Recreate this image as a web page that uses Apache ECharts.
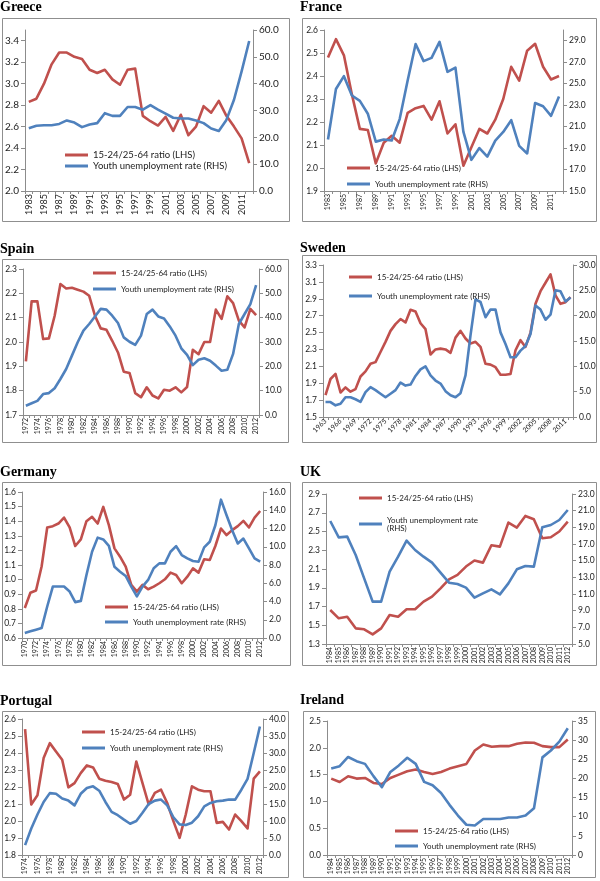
<!DOCTYPE html>
<html><head><meta charset="utf-8">
<script src="https://cdn.jsdelivr.net/npm/echarts@6/dist/echarts.min.js"></script>
<style>html,body{margin:0;padding:0;background:#fff}#c{width:600px;height:881px}</style>
</head><body><div id="c"></div>
<script>
// ---------- DATA ----------
const RATIO = '15-24/25-64 ratio (LHS)';
const YOUTH = 'Youth unemployment rate (RHS)';

const greeceYears = ['1983','1984','1985','1986','1987','1988','1989','1990','1991','1992','1993','1994','1995','1996','1997','1998','1999','2000','2001','2002','2003','2004','2005','2006','2007','2008','2009','2010','2011','2012'];
const greeceRatio = [2.83,2.86,3.00,3.18,3.29,3.29,3.25,3.23,3.13,3.10,3.13,3.04,2.99,3.13,3.14,2.70,2.65,2.61,2.69,2.56,2.71,2.52,2.60,2.79,2.73,2.84,2.70,2.60,2.49,2.26];
const greeceYouth = [23.4,24.3,24.5,24.5,25.0,26.3,25.5,23.8,24.8,25.3,29.0,28.0,28.0,31.3,31.3,30.3,32.0,30.3,28.8,27.3,27.0,27.0,26.3,25.3,23.3,22.4,26.5,34.0,44.6,55.9];
const greeceLeftTicks = [2.0, 3.5, 0.2];
const greeceRightTicks = [0, 60, 10];

const franceYears = ['1983','1984','1985','1986','1987','1988','1989','1990','1991','1992','1993','1994','1995','1996','1997','1998','1999','2000','2001','2002','2003','2004','2005','2006','2007','2008','2009','2010','2011','2012'];
const franceRatio = [2.48,2.56,2.49,2.32,2.17,2.165,2.02,2.11,2.14,2.11,2.24,2.26,2.27,2.21,2.29,2.15,2.19,2.01,2.09,2.17,2.15,2.21,2.30,2.44,2.38,2.51,2.54,2.44,2.385,2.40];
const franceYouth = [19.8,24.5,25.7,23.9,23.4,22.2,19.6,19.8,19.7,21.7,25.3,28.7,27.1,27.4,28.9,26.1,26.5,20.5,17.9,19.0,18.2,19.7,20.5,21.6,19.2,18.5,23.2,22.9,22.0,23.8];
const franceLeftTicks = [1.9, 2.6, 0.1];
const franceRightTicks = [15, 30, 2];

const spainYears = ['1972','1973','1974','1975','1976','1977','1978','1979','1980','1981','1982','1983','1984','1985','1986','1987','1988','1989','1990','1991','1992','1993','1994','1995','1996','1997','1998','1999','2000','2001','2002','2003','2004','2005','2006','2007','2008','2009','2010','2011','2012'];
const spainRatio = [1.92,2.167,2.167,2.012,2.015,2.108,2.238,2.22,2.223,2.215,2.207,2.19,2.108,2.056,2.05,2.005,1.957,1.878,1.873,1.79,1.773,1.814,1.78,1.768,1.804,1.80,1.814,1.793,1.815,1.968,1.95,2.0,2.0,2.133,2.095,2.188,2.16,2.088,2.06,2.136,2.11];
const spainYouth = [3.8,4.8,5.8,8.6,9.0,11.0,14.8,18.9,24.4,29.9,34.7,37.4,40.5,43.6,43.3,40.8,37.8,31.9,30.1,28.8,32.6,41.5,43.3,40.5,39.7,36.4,32.6,27.4,24.7,20.5,22.7,23.3,22.3,20.3,18.2,18.6,25.1,37.4,41.5,45.6,53.4];
const spainLeftTicks = [1.7, 2.3, 0.1];
const spainRightTicks = [0, 60, 10];

const swedenYears = ['1963','1964','1965','1966','1967','1968','1969','1970','1971','1972','1973','1974','1975','1976','1977','1978','1979','1980','1981','1982','1983','1984','1985','1986','1987','1988','1989','1990','1991','1992','1993','1994','1995','1996','1997','1998','1999','2000','2001','2002','2003','2004','2005','2006','2007','2008','2009','2010','2011','2012'];
const swedenRatio = [1.76,1.95,2.01,1.79,1.85,1.80,1.83,1.98,2.04,2.13,2.15,2.27,2.39,2.52,2.60,2.66,2.62,2.77,2.75,2.61,2.54,2.24,2.30,2.31,2.30,2.26,2.44,2.52,2.43,2.37,2.39,2.33,2.13,2.12,2.09,2.00,2.00,2.01,2.29,2.41,2.33,2.50,2.84,2.99,3.09,3.19,2.94,2.84,2.86,2.92];
const swedenYouth = [2.95,2.95,2.3,2.6,3.9,3.9,3.5,3.0,4.9,5.9,5.3,4.6,3.9,4.6,5.3,6.8,6.2,6.4,8.1,9.4,10.0,8.2,7.2,6.6,5.1,4.3,3.9,4.7,8.2,16.1,23.2,22.7,19.7,21.2,21.2,16.7,14.4,11.8,11.8,13.1,14.0,16.4,22.0,21.2,19.2,20.2,25.0,24.8,22.8,23.6];
const swedenLeftTicks = [1.5, 3.3, 0.2];
const swedenRightTicks = [0, 30, 5];

const germanyYears = ['1970','1971','1972','1973','1974','1975','1976','1977','1978','1979','1980','1981','1982','1983','1984','1985','1986','1987','1988','1989','1990','1991','1992','1993','1994','1995','1996','1997','1998','1999','2000','2001','2002','2003','2004','2005','2006','2007','2008','2009','2010','2011','2012'];
const germanyRatio = [0.805,0.91,0.925,1.09,1.357,1.366,1.384,1.425,1.357,1.23,1.275,1.40,1.43,1.384,1.498,1.373,1.214,1.157,1.089,0.964,0.918,0.964,0.934,0.952,0.975,1.002,1.048,1.032,0.975,1.02,1.077,1.048,1.139,1.134,1.23,1.35,1.305,1.339,1.366,1.402,1.357,1.425,1.47];
const germanyYouth = [0.55,0.73,0.91,1.09,3.45,5.64,5.64,5.64,5.09,3.93,4.07,6.9,9.45,11.0,10.8,10.1,7.8,7.27,6.8,5.64,4.55,5.64,6.36,7.64,8.18,8.18,9.45,10.07,9.09,8.73,8.44,8.36,9.93,10.55,12.36,15.16,13.45,11.8,10.36,10.9,9.82,8.73,8.36];
const germanyLeftTicks = [0.6, 1.6, 0.1];
const germanyRightTicks = [0, 16, 2];

const ukYears = ['1984','1985','1986','1987','1988','1989','1990','1991','1992','1993','1994','1995','1996','1997','1998','1999','2000','2001','2002','2003','2004','2005','2006','2007','2008','2009','2010','2011','2012'];
const ukRatio = [1.663,1.574,1.59,1.467,1.457,1.403,1.467,1.61,1.59,1.67,1.67,1.752,1.805,1.894,1.99,2.037,2.126,2.19,2.168,2.353,2.339,2.595,2.542,2.666,2.631,2.428,2.439,2.5,2.606];
const ukYouth = [19.76,17.8,17.88,15.68,12.88,10.08,10.08,13.68,15.48,17.4,16.28,15.48,14.76,13.56,12.36,12.2,11.76,10.56,11.08,11.56,10.96,12.28,13.96,14.36,14.28,19.0,19.28,19.88,21.08];
const ukLeftTicks = [1.3, 2.9, 0.2];
const ukRightTicks = [5, 23, 2];

const portugalYears = ['1974','1975','1976','1977','1978','1979','1980','1981','1982','1983','1984','1985','1986','1987','1988','1989','1990','1991','1992','1993','1994','1995','1996','1997','1998','1999','2000','2001','2002','2003','2004','2005','2006','2007','2008','2009','2010','2011','2012'];
const portugalRatio = [2.541,2.097,2.151,2.37,2.458,2.409,2.36,2.198,2.223,2.282,2.327,2.315,2.249,2.237,2.229,2.218,2.126,2.155,2.35,2.223,2.097,2.165,2.184,2.106,1.999,1.901,2.038,2.204,2.184,2.175,2.175,1.989,1.995,1.95,2.038,1.999,1.956,2.249,2.292];
const portugalYouth = [2.9,7.8,11.9,15.6,18.2,18.0,16.6,16.0,14.6,18.0,19.7,20.2,18.9,15.6,12.7,11.7,10.4,9.2,10.0,12.4,15.0,16.0,16.3,14.6,11.1,9.0,8.8,9.5,11.4,14.3,15.3,15.8,16.0,16.3,16.3,19.2,22.4,30.0,37.8];
const portugalLeftTicks = [1.8, 2.6, 0.1];
const portugalRightTicks = [0, 40, 5];

const irelandYears = ['1984','1985','1986','1987','1988','1989','1990','1991','1992','1993','1994','1995','1996','1997','1998','1999','2000','2001','2002','2003','2004','2005','2006','2007','2008','2009','2010','2011','2012'];
const irelandRatio = [1.425,1.362,1.469,1.425,1.437,1.344,1.325,1.437,1.5,1.562,1.594,1.55,1.512,1.55,1.612,1.656,1.7,1.95,2.062,2.019,2.031,2.031,2.075,2.1,2.094,2.031,2.012,2.012,2.156];
const irelandYouth = [22.6,23.2,25.6,24.5,23.8,20.6,17.7,21.7,23.4,25.4,23.8,19.1,18.2,16.2,13.1,10.3,7.9,7.7,9.4,9.4,9.4,9.8,9.8,10.3,12.2,25.5,27.3,29.6,33.1];
const irelandLeftTicks = [0, 2.5, 0.5];
const irelandRightTicks = [0, 35, 5];

// ---------- LAYOUT ----------
const panels = [
  {title:'Greece', years:greeceYears, ratio:greeceRatio, youth:greeceYouth, lt:greeceLeftTicks, rt:greeceRightTicks, lDec:1, rDec:1, hideLMax:true, hideRMax:false,
   grid:[25,30,228,161], box:[2.5,18.5,287,203], tpos:[0,0], lg:{left:65,top:150,gap:1,fs:9.5}, yFs:10, xFs:9, xInt:1, rot:90},
  {title:'France', years:franceYears, ratio:franceRatio, youth:franceYouth, lt:franceLeftTicks, rt:franceRightTicks, lDec:1, rDec:1, hideLMax:false, hideRMax:true,
   grid:[324,30,239,161], box:[302.5,18.5,294,203], tpos:[300,0], lg:{left:347,top:164,gap:8,fs:8}, yFs:8.5, xFs:7, xInt:1, rot:90},
  {title:'Spain', years:spainYears, ratio:spainRatio, youth:spainYouth, lt:spainLeftTicks, rt:spainRightTicks, lDec:1, rDec:1,
   grid:[23,269,236,146], box:[2.5,259.5,286,183], tpos:[0,242], lg:{left:93,top:269,gap:8,fs:8}, yFs:8.5, xFs:7, xInt:1, rot:90},
  {title:'Sweden', years:swedenYears, ratio:swedenRatio, youth:swedenYouth, lt:swedenLeftTicks, rt:swedenRightTicks, lDec:1, rDec:1,
   grid:[323,265,250,152], box:[302.5,255.5,294,187], tpos:[300,241], lg:{left:349,top:273,gap:11,fs:8}, yFs:8.5, xFs:7, xInt:2, rot:45},
  {title:'Germany', years:germanyYears, ratio:germanyRatio, youth:germanyYouth, lt:germanyLeftTicks, rt:germanyRightTicks, lDec:1, rDec:1,
   grid:[22,492,241,146], box:[2.5,482.5,288,183], tpos:[0,465], lg:{left:105,top:603,gap:7,fs:8}, yFs:8.5, xFs:7, xInt:1, rot:90},
  {title:'UK', years:ukYears, ratio:ukRatio, youth:ukYouth, lt:ukLeftTicks, rt:ukRightTicks, lDec:1, rDec:1,
   grid:[326,494,246,150], box:[302.5,482.5,294,183], tpos:[300,465], lg:{left:359,top:494,gap:14,fs:8,wrap:true}, yFs:8.5, xFs:7, xInt:0, rot:90},
  {title:'Portugal', years:portugalYears, ratio:portugalRatio, youth:portugalYouth, lt:portugalLeftTicks, rt:portugalRightTicks, lDec:1, rDec:1,
   grid:[22,719,241,136], box:[2.5,711.5,286,166], tpos:[0,694], lg:{left:82,top:728,gap:8,fs:8}, yFs:8.5, xFs:7, xInt:1, rot:90},
  {title:'Ireland', years:irelandYears, ratio:irelandRatio, youth:irelandYouth, lt:irelandLeftTicks, rt:irelandRightTicks, lDec:1, rDec:0,
   grid:[327,721,245,134], box:[303.5,711.5,292,166], tpos:[300,693], lg:{left:395,top:827,gap:7,fs:8}, yFs:8.5, xFs:7, xInt:0, rot:90}
];

const RED = '#C0504D', BLUE = '#4F81BD', AXIS = '#8c8c8c', TXT = '#222';
const FONT = 'Lato, "Open Sans", sans-serif';

const option = {backgroundColor:'#fff', animation:false, title:[], grid:[], xAxis:[], yAxis:[], series:[], legend:[], graphic:[]};

function yAxisDef(i, pos, t, dec, fs, hideMax){
  return {type:'value', gridIndex:i, position:pos, min:t[0], max:t[1], interval:t[2],
    axisLine:{show:true, lineStyle:{color:AXIS, width:1}},
    axisTick:{show:true, length:4, lineStyle:{color:AXIS}},
    splitLine:{show:false},
    axisLabel:{fontSize:fs, color:TXT, fontFamily:FONT, margin:6,
      showMaxLabel: hideMax ? false : null,
      formatter: v => Number(v).toFixed(dec)}};
}

panels.forEach((p, i) => {
  option.title.push({text:p.title, left:p.tpos[0], top:p.tpos[1], padding:0,
    textStyle:{fontFamily:'"Liberation Serif", serif', fontWeight:'bold', fontSize:14, color:'#000'}});
  option.graphic.push({type:'rect', z:-1, silent:true,
    shape:{x:p.box[0], y:p.box[1], width:p.box[2], height:p.box[3]},
    style:{fill:'none', stroke:'#8f8f8f', lineWidth:1}});
  option.grid.push({left:p.grid[0], top:p.grid[1], width:p.grid[2], height:p.grid[3], containLabel:false});
  option.xAxis.push({type:'category', gridIndex:i, data:p.years, boundaryGap:true,
    axisLine:{lineStyle:{color:AXIS, width:1}},
    axisTick:{show:true, interval:0, length:3, lineStyle:{color:AXIS}},
    splitLine:{show:false},
    axisLabel:{interval:p.xInt, rotate:p.rot, fontSize:p.xFs, color:TXT, fontFamily:FONT, margin:3}});
  option.yAxis.push(yAxisDef(i, 'left', p.lt, p.lDec, p.yFs, p.hideLMax));
  option.yAxis.push(yAxisDef(i, 'right', p.rt, p.rDec, p.yFs, p.hideRMax));
  option.series.push({type:'line', name:RATIO, xAxisIndex:i, yAxisIndex:2*i, data:p.ratio,
    showSymbol:false, symbol:'none', lineStyle:{width:2.6, color:RED, join:'round'}, itemStyle:{color:RED}});
  option.series.push({type:'line', name:YOUTH, xAxisIndex:i, yAxisIndex:2*i+1, data:p.youth,
    showSymbol:false, symbol:'none', lineStyle:{width:2.6, color:BLUE, join:'round'}, itemStyle:{color:BLUE}});
  const lg = {orient:'vertical', left:p.lg.left, top:p.lg.top, itemGap:p.lg.gap, padding:0,
    itemWidth:23, itemHeight:3, icon:'rect', selectedMode:false, data:[RATIO, YOUTH],
    textStyle:{fontSize:p.lg.fs, fontFamily:FONT, color:TXT}};
  if (p.lg.wrap) lg.formatter = n => n === YOUTH ? 'Youth unemployment rate\n(RHS)' : n;
  option.legend.push(lg);
});

const chart = echarts.init(document.getElementById('c'), null, {renderer:'canvas'});
chart.setOption(option);
</script>
</body></html>
